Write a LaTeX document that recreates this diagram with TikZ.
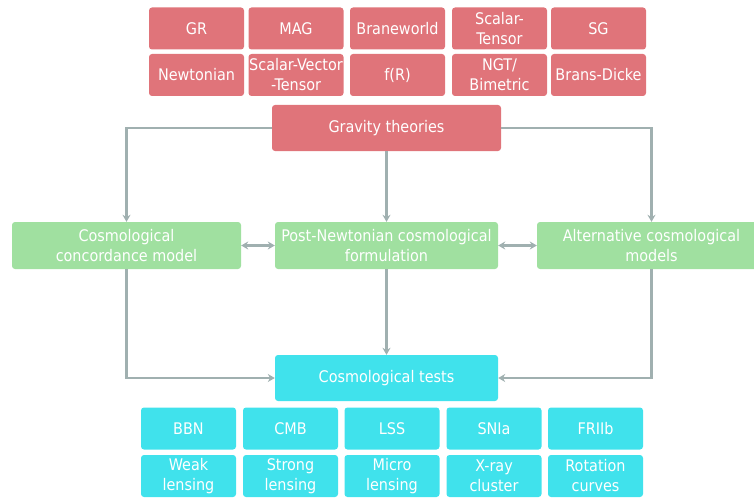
\documentclass[tikz,border=0pt]{standalone}
\usepackage{fontspec}
\setmainfont{DejaVu Sans Condensed}
\usetikzlibrary{arrows.meta}
\definecolor{gravred}{RGB}{224,116,122}
\definecolor{modgreen}{RGB}{160,224,160}
\definecolor{testcyan}{RGB}{64,226,236}
\definecolor{linkgrey}{RGB}{160,176,176}
\begin{document}
\begin{tikzpicture}[x=1pt, y=-1pt, font=\fontsize{16}{20}\selectfont,
	box/.style = {rounded corners=3pt, text=white, align=center, inner sep=0pt, minimum height=42pt},
	redbox/.style = {box, fill=gravred, minimum width=95pt},
	greenbox/.style = {box, fill=modgreen, minimum width=229pt, minimum height=47pt},
	cyanbox/.style = {box, fill=testcyan, minimum width=95pt},
	link/.style = {draw=linkgrey, line width=2.4pt, -{Stealth[length=7pt, width=8pt]}},
	twoway/.style = {link, {Stealth[length=7pt, width=8pt]}-{Stealth[length=7pt, width=8pt]}}]

		\useasboundingbox (0,0) rectangle (754,500);

		% gravity theories
		\node[redbox] (gr) at (196.5,28.5) {GR};
		\node[redbox] (mag) at (296,28.5) {MAG};
		\node[redbox] (brane) at (397.5,28.5) {Braneworld};
		\node[redbox] (st) at (499.5,28.5) {Scalar-\\Tensor};
		\node[redbox] (sg) at (598.5,28.5) {SG};
		\node[redbox] (newt) at (196.5,75) {Newtonian};
		\node[redbox] (svt) at (296,75) {Scalar-Vector\\-Tensor};
		\node[redbox] (fr) at (397.5,75) {f(R)};
		\node[redbox] (ngt) at (499.5,75) {NGT/\\Bimetric};
		\node[redbox] (bd) at (598.5,75) {Brans-Dicke};
		\node[redbox, minimum width=229pt, minimum height=46pt] (grav) at (386.5,128) {Gravity theories};

		% models
		\node[greenbox] (cosmo) at (126.5,245.5) {Cosmological\\concordance model};
		\node[greenbox, minimum width=223pt] (pn) at (386.5,245.5) {Post-Newtonian cosmological\\formulation};
		\node[greenbox] (alt) at (651.5,245.5) {Alternative cosmological\\models};

		% tests
		\node[cyanbox, minimum width=223pt, minimum height=46pt] (tests) at (386.5,378) {Cosmological tests};
		\node[cyanbox] (bbn) at (188.5,428.5) {BBN};
		\node[cyanbox] (cmb) at (290.5,428.5) {CMB};
		\node[cyanbox] (lss) at (392,428.5) {LSS};
		\node[cyanbox] (snia) at (494,428.5) {SNIa};
		\node[cyanbox] (frii) at (595.5,428.5) {FRIIb};
		\node[cyanbox] (weak) at (188.5,476) {Weak\\lensing};
		\node[cyanbox] (strong) at (290.5,476) {Strong\\lensing};
		\node[cyanbox] (micro) at (392,476) {Micro\\lensing};
		\node[cyanbox] (xray) at (494,476) {X-ray\\cluster};
		\node[cyanbox] (rot) at (595.5,476) {Rotation\\curves};

		\draw[link] (grav.west) -| (cosmo.north);
		\draw[link] (grav) -- (pn);
		\draw[link] (grav.east) -| (alt.north);
		\draw[twoway] (cosmo) -- (pn);
		\draw[twoway] (pn) -- (alt);
		\draw[link] (cosmo.south) |- (tests.west);
		\draw[link] (pn) -- (tests);
		\draw[link] (alt.south) |- (tests.east);
	\end{tikzpicture}
\end{document}
